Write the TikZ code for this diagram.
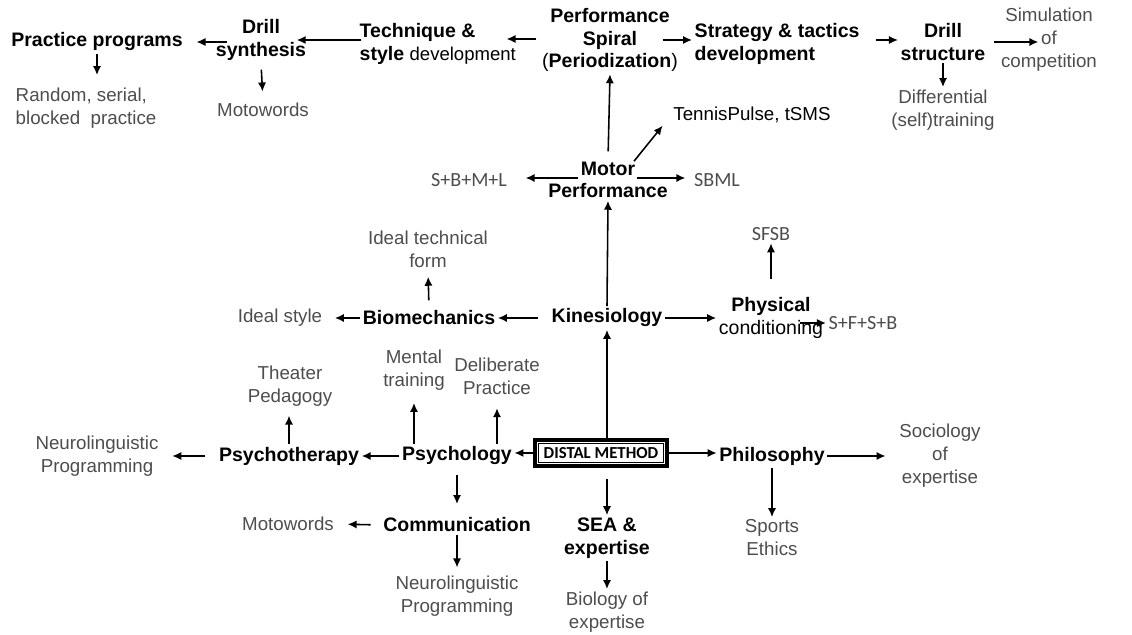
\documentclass[tikz,border=0pt]{standalone}
\usepackage{fontspec}
\setmainfont{Liberation Sans}
\newfontfamily\calib{Carlito}
\usetikzlibrary{arrows.meta,calc}
\definecolor{leafgray}{HTML}{4D4D4D}

\begin{document}
\begin{tikzpicture}[x=0.018cm, y=-0.018cm, line width=0.8pt,
        arr/.style={-{Latex[length=4.6pt,width=4.2pt]}},
        topic/.style={font=\bfseries\fontsize{10}{11.5}\selectfont, align=center, inner sep=1pt},
        leaf/.style={font=\fontsize{9.6}{11.8}\selectfont, text=leafgray, align=center, inner sep=1pt},
        code/.style={font=\calib\fontsize{10.3}{12}\selectfont, text=leafgray, inner sep=1pt},
        dmbox/.style={draw, line width=0.5pt, inner sep=0pt, outer sep=2.5pt,
            minimum width=2.24cm, minimum height=0.35cm,
            font=\calib\bfseries\fontsize{8.6}{10}\selectfont}]
        \useasboundingbox (0,0) rectangle (1132,635);

        % 上排
        \node[topic] (prog) at (97,42) {Practice programs};
        \node[leaf, align=left, anchor=west] (rand) at (13,108) {Random, serial,\\blocked\ \ practice};
        \node[topic] (dsyn) at (261,40) {Drill\\synthesis};
        \node[leaf] (moto1) at (263,110) {Motowords};
        \node[topic, align=left, anchor=west] (tech) at (357,44) {Technique \&\\style {\mdseries\fontsize{9.5}{11.5}\selectfont development}};
        \node[topic] (spiral) at (610,40) {Performance\\Spiral\\{\mdseries(}Periodization{\mdseries)}};
        \node[topic, align=left, anchor=west] (strat) at (692,44) {Strategy \& tactics\\development};
        \node[topic] (dstr) at (943,42) {Drill\\structure};
        \node[leaf] (sim) at (1049,40) {Simulation\\of\\competition};
        \node[leaf] (diff) at (943,110) {Differential\\(self)training};
        \node[leaf, text=black] (tpulse) at (752,115) {TennisPulse, tSMS};

        % Motor Performance
        \node[topic] (motor) at (608,180) {Motor\\Performance};
        \node[code] (sbml1) at (469,180) {S+B+M+L};
        \node[code] (sbml2) at (717,180) {SBML};

        % 中间
        \node[topic] (kin) at (607,318) {Kinesiology};
        \node[topic] (bio) at (429,318) {Biomechanics};
        \node[leaf] (istyle) at (280,318) {Ideal style};
        \node[leaf] (ideal) at (428,249) {Ideal technical\\form};
        \node[topic] (phys) at (771,318) {Physical\\{\mdseries conditioning}};
        \node[code] (sfsb) at (771,234) {SFSB};
        \node[code] (sfsb2) at (863,323) {S+F+S+B};

        % 下部
        \node[dmbox] (dm) at (601,453) {DISTAL METHOD};
        \draw[line width=2pt] ($(dm.south west)+(0.75pt,0.75pt)$) rectangle ($(dm.north east)+(-0.75pt,-0.75pt)$);
        \node[topic] (psy) at (457,456) {Psychology};
        \node[topic] (pther) at (289,456) {Psychotherapy};
        \node[leaf] (neuro1) at (97,456) {Neurolinguistic\\Programming};
        \node[leaf] (theater) at (290,386) {Theater\\Pedagogy};
        \node[leaf] (mental) at (414,370) {Mental\\training};
        \node[leaf] (delib) at (497,376) {Deliberate\\Practice};
        \node[topic] (comm) at (457,525) {Communication};
        \node[leaf] (moto2) at (288,524) {Motowords};
        \node[leaf] (neuro2) at (457,596) {Neurolinguistic\\Programming};
        \node[topic] (sea) at (607,538) {SEA \&\\expertise};
        \node[leaf] (bio2) at (607,612) {Biology of\\expertise};
        \node[topic] (philo) at (772,456) {Philosophy};
        \node[leaf] (soc) at (940,456) {Sociology\\of\\expertise};
        \node[leaf] (sports) at (772,538) {Sports\\Ethics};

        % 上排箭头
        \draw[arr, shorten <=-0.25cm, shorten >=0.2cm] (dsyn.west |- prog) -- (prog.east);
        \draw[arr] ($(tech.west)+(4,-4)$) -- ($(dsyn.east |- tech.west)+(-12,-4)$);
        \draw[arr] ($(spiral.west)+(-3,-1)$) -- ($(tech.east |- spiral.west)+(-12,-1)$);
        \draw[arr] ($(spiral.east)+(-18,0)$) -- (strat.west |- spiral.east);
        \draw[arr] ($(strat.east)+(14,-4)$) -- ($(dstr.west |- strat.east)+(0,-4)$);
        \draw[arr] ($(dstr.east)+(6,0)$) -- ($(sim.west |- dstr.east)+(40,0)$);
        \draw[arr, shorten >=0.18cm] (prog.south) -- (prog.south |- rand.north);
        \draw[arr, shorten <=0.12cm, shorten >=0.16cm] (dsyn.south) -- (moto1.north);
        \draw[arr] (dstr.south) -- (diff.north);

        % Motor 箭头
        \draw[arr, shorten <=0.14cm] (motor.north) -- (spiral.south);
        \draw[arr] ($(motor.north)+(26,2)$) -- ($(tpulse.south west)+(-8,0)$);
        \draw[arr] ($(motor)+(-30,-2)$) -- ($(sbml1.east)+(16,-2)$);
        \draw[arr] ($(motor)+(29,-2)$) -- ($(sbml2.west)+(-6,-2)$);

        % 中间箭头
        \draw[arr] (kin.north) -- (motor.south);
        \draw[arr, shorten <=0.2cm] (kin.west) -- (bio.east);
        \draw[arr, shorten >=0.18cm] (bio.west) -- (istyle.east);
        \draw[arr, shorten <=0.14cm, shorten >=0.12cm] (bio.north) -- (ideal.south);
        \draw[arr] (kin.east) -- (phys.west);
        \draw[arr, shorten <=0.29cm] (phys.north) -- (sfsb.south);
        \draw[arr] ($(phys)+(29,5)$) -- (sfsb2.west);

        % 下部箭头
        \draw[arr] (dm.north -| kin) -- (kin.south);
        \draw[arr] (dm.west) -- (dm.west -| psy.east);
        \draw[arr] (dm.east) -- (dm.east -| philo.west);
        \draw[arr, shorten <=0.2cm] (dm.south -| sea) -- (sea.north);
        \draw[arr] (sea.south) -- (bio2.north);
        \draw[arr, shorten >=0.2cm] (philo.east) -- (soc.west);
        \draw[arr] (philo.south) -- (sports.north);
        \draw[arr] (psy.west) -- (pther.east);
        \draw[arr, shorten <=0.2cm, shorten >=0.2cm] (pther.west) -- (neuro1.east);
        \draw[arr, shorten >=0.12cm] (pther.north) -- (pther.north |- theater.south);
        \draw[arr, shorten >=0.18cm] (psy.north -| mental) -- (mental.south);
        \draw[arr, shorten >=0.2cm] (psy.north -| delib) -- (delib.south);
        \draw[arr, shorten <=0.12cm, shorten >=0.2cm] (psy.south) -- (comm.north);
        \draw[arr, shorten <=0.18cm, shorten >=0.2cm] (comm.west) -- (moto2.east);
        \draw[arr, shorten >=0.1cm] (comm.south) -- (neuro2.north);
    \end{tikzpicture}
\end{document}
